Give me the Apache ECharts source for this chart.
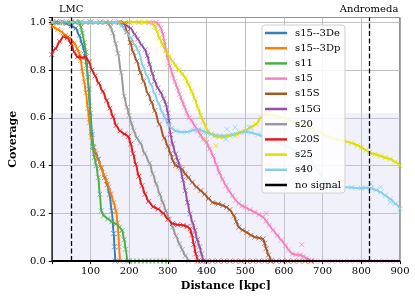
<!DOCTYPE html>
<html>
<head>
<meta charset="utf-8">
<script src="https://cdn.jsdelivr.net/npm/echarts@6/dist/echarts.min.js"></script>
<style>
html, body { margin: 0; padding: 0; background: #fff; }
#chart { width: 415px; height: 297px; }
</style>
</head>
<body>
<div id="chart"></div>
<script>
// [distance kpc, coverage]
var s15_3De = [[0,1],[10,1],[20,0.998],[37,0.995],[50,0.985],[62,0.975],[71,0.945],[78,0.91],[84,0.88],[90,0.82],[96,0.72],[100,0.62],[104,0.53],[108,0.475],[114,0.45],[120,0.427],[128,0.39],[137,0.35],[143,0.32],[149,0.28],[155,0.21],[160,0.115],[162,0.06],[164,0]];
var s15_3Dp = [[0,0.985],[4,0.98],[15,0.97],[25,0.96],[36,0.945],[46,0.934],[58,0.913],[66,0.89],[71,0.87],[75,0.84],[79,0.795],[84,0.75],[88,0.705],[93,0.64],[97,0.58],[102,0.52],[107,0.48],[112,0.46],[120,0.425],[128,0.39],[135,0.36],[141,0.337],[147,0.31],[153,0.28],[160,0.245],[166,0.21],[170,0.16],[172,0.115],[174,0.06],[176,0]];
var s11 = [[0,1],[15,1],[30,1],[45,1],[60,1],[71,1],[75,0.98],[79,0.955],[84,0.915],[88,0.875],[93,0.77],[98,0.65],[102,0.54],[105,0.48],[110,0.434],[115,0.4],[120,0.35],[124,0.28],[128,0.21],[134,0.19],[145,0.177],[155,0.165],[166,0.156],[175,0.142],[182,0.128],[187,0.09],[191,0.05],[195,0]];
var s15 = [[0,1],[25,1],[50,1],[75,1],[100,1],[125,1],[150,1],[175,1],[200,1],[225,1],[250,1],[270,1],[276,0.99],[282,0.975],[287,0.95],[291,0.92],[295,0.885],[299,0.85],[305,0.815],[312,0.78],[318,0.752],[324,0.726],[330,0.698],[337,0.67],[343,0.645],[349,0.62],[355,0.6],[362,0.587],[370,0.565],[378,0.545],[385,0.527],[391,0.51],[400,0.497],[408,0.47],[417,0.44],[425,0.405],[433,0.37],[441,0.342],[450,0.316],[458,0.295],[467,0.274],[475,0.255],[483,0.242],[492,0.232],[500,0.226],[512,0.215],[525,0.205],[535,0.195],[546,0.184],[554,0.168],[562,0.15],[572,0.13],[583,0.108],[593,0.088],[604,0.066],[612,0.047],[621,0.031],[631,0.027],[642,0.026],[650,0.02],[658,0.012],[665,0.004],[671,0]];
var s15S = [[0,1],[25,1],[50,1],[75,1],[100,1],[125,1],[150,1],[175,1],[187,0.995],[195,0.96],[203,0.915],[210,0.875],[220,0.837],[229,0.79],[237,0.753],[249,0.7],[258,0.665],[266,0.63],[278,0.573],[291,0.515],[300,0.48],[307,0.45],[313,0.42],[320,0.4],[328,0.395],[337,0.385],[345,0.365],[353,0.35],[363,0.33],[374,0.31],[385,0.295],[395,0.28],[405,0.262],[416,0.245],[430,0.24],[442,0.233],[452,0.225],[460,0.215],[471,0.19],[477,0.165],[483,0.142],[493,0.13],[504,0.12],[515,0.108],[525,0.1],[536,0.097],[546,0.093],[550,0.075],[554,0.052],[560,0.025],[567,0]];
var s15G = [[0,1],[25,1],[50,1],[75,1],[100,1],[125,1],[150,1],[175,1],[190,0.99],[204,0.975],[214,0.95],[222,0.93],[232,0.905],[241,0.885],[247,0.86],[253,0.823],[260,0.785],[266,0.753],[274,0.725],[282,0.705],[289,0.68],[295,0.656],[300,0.62],[303,0.587],[307,0.53],[312,0.49],[320,0.448],[326,0.42],[332,0.39],[339,0.34],[345,0.295],[351,0.245],[357,0.198],[364,0.16],[370,0.128],[376,0.09],[382,0.06],[387,0.03],[391,0]];
var s20 = [[0,1],[25,1],[50,1],[75,1],[100,1],[125,1],[140,1],[146,0.995],[152,0.98],[158,0.955],[165,0.91],[171,0.87],[179,0.79],[187,0.69],[194,0.645],[200,0.61],[206,0.575],[212,0.545],[220,0.515],[229,0.495],[240,0.45],[253,0.41],[261,0.365],[270,0.323],[279,0.28],[287,0.245],[295,0.21],[304,0.175],[312,0.142],[321,0.105],[330,0.072],[337,0.048],[345,0.022],[353,0]];
var s20S = [[0,0.865],[10,0.89],[20,0.92],[30,0.94],[40,0.935],[50,0.91],[58,0.875],[66,0.855],[78,0.852],[88,0.855],[96,0.835],[104,0.8],[112,0.775],[121,0.745],[132,0.71],[142,0.672],[150,0.64],[158,0.605],[166,0.568],[176,0.545],[188,0.532],[198,0.522],[204,0.49],[210,0.45],[217,0.405],[225,0.355],[233,0.316],[241,0.28],[250,0.25],[262,0.228],[275,0.218],[288,0.2],[300,0.175],[312,0.157],[325,0.152],[340,0.15],[350,0.145],[357,0.135],[362,0.11],[367,0.07],[372,0.03],[377,0]];
var s25 = [[0,1],[25,1],[50,1],[75,1],[100,1],[125,1],[150,1],[175,1],[200,1],[225,1],[240,1],[253,1],[260,0.993],[266,0.983],[272,0.96],[278,0.934],[286,0.907],[295,0.88],[303,0.858],[312,0.837],[320,0.818],[328,0.8],[337,0.785],[345,0.767],[353,0.74],[362,0.71],[370,0.677],[378,0.64],[385,0.61],[391,0.587],[397,0.565],[403,0.545],[412,0.532],[420,0.524],[432,0.52],[445,0.519],[460,0.525],[478,0.53],[490,0.54],[503,0.55],[515,0.56],[528,0.573],[540,0.6],[550,0.613],[558,0.615],[575,0.61],[592,0.603],[608,0.594],[630,0.58],[650,0.566],[670,0.552],[692,0.538],[712,0.524],[733,0.51],[755,0.503],[775,0.495],[790,0.485],[800,0.476],[812,0.465],[821,0.455],[835,0.447],[850,0.44],[862,0.433],[875,0.427],[888,0.415],[900,0.4]];
var s40 = [[0,1],[25,1],[50,1],[75,1],[100,1],[125,1],[150,1],[170,1],[180,0.985],[192,0.96],[204,0.935],[215,0.905],[225,0.875],[236,0.815],[246,0.775],[256,0.74],[266,0.7],[276,0.66],[285,0.625],[293,0.598],[301,0.572],[310,0.556],[320,0.545],[335,0.54],[350,0.541],[365,0.548],[379,0.552],[390,0.545],[400,0.538],[412,0.532],[425,0.526],[445,0.525],[467,0.53],[485,0.538],[500,0.542],[515,0.538],[533,0.53],[554,0.515],[580,0.5],[608,0.48],[638,0.455],[667,0.427],[688,0.38],[708,0.33],[728,0.315],[750,0.31],[775,0.308],[800,0.305],[812,0.307],[825,0.305],[838,0.298],[850,0.288],[862,0.275],[875,0.26],[888,0.24],[900,0.219]];

// stray crosses that sit off the curves
var s11Zero = [[200,0],[210,0],[220,0],[230,0],[240,0],[250,0],[260,0],[270,0],[280,0],[290,0],[300,0]];
var s20SZero = [[385,0],[400,0],[415,0],[430,0],[445,0],[460,0],[475,0],[490,0],[505,0],[520,0],[535,0],[550,0],[565,0],[580,0],[595,0],[610,0],[625,0],[640,0],[655,0],[670,0]];
var s15Zero = [[680,0],[695,0],[710,0],[725,0],[740,0],[755,0],[770,0],[785,0],[800,0],[815,0],[830,0],[845,0],[860,0],[875,0],[890,0]];
var s15Extra = [[646,0.069],[554,0.2]];
var s25Extra = [[399,0.51],[424,0.483],[550,0.62],[625,0.62],[299,0.823],[474,0.524]];
var s40Extra = [[450,0.51],[453,0.552],[474,0.56],[510,0.56],[825,0.323],[850,0.31],[875,0.247]];

var names = ['s15--3De', 's15--3Dp', 's11', 's15', 's15S', 's15G', 's20', 's20S', 's25', 's40'];
var curves = [s15_3De, s15_3Dp, s11, s15, s15S, s15G, s20, s20S, s25, s40];
var extras = [[], [], s11Zero, s15Zero.concat(s15Extra), [], [], [], s20SZero, s25Extra, s40Extra];
var colors = ['#377eb8', '#ff7f00', '#4daf4a', '#f781bf', '#a65628', '#984ea3', '#999999', '#e41a1c', '#dede00', '#87ceeb'];

var noSignal = [[0,0],[900,0]];
var refNames = ['LMC', 'Andromeda'];
var refDist = [50, 820];
var bandTop = 0.62;

var font = 'DejaVu Serif';
var cross = 'path://M0,0L10,10M10,0L0,10';

var series = [];
// black baseline + shaded band + reference distances
series.push({
    name: 'no signal',
    type: 'line',
    data: noSignal,
    showSymbol: false,
    lineStyle: { color: '#000', width: 2 },
    itemStyle: { color: '#000' },
    markArea: {
        silent: true,
        itemStyle: { color: 'rgba(200,200,245,0.25)' },
        data: [[{ yAxis: 0 }, { yAxis: bandTop }]]
    },
    markLine: {
        silent: true,
        symbol: 'none',
        lineStyle: { color: '#000', type: [5, 2.5], width: 1.3 },
        label: { show: true, position: 'end', distance: 3, formatter: '{b}', fontFamily: font, fontSize: 10, color: '#000' },
        data: refDist.map(function (d, i) { return { name: refNames[i], xAxis: d }; })
    },
    z: 3
});
for (var i = 0; i < names.length; i++) {
    series.push({
        name: names[i] + ' pts',
        type: 'scatter',
        data: curves[i].concat(extras[i]),
        symbol: cross,
        symbolSize: 5,
        itemStyle: { color: 'rgba(0,0,0,0)', borderColor: colors[i], borderWidth: 1, opacity: 0.75 },
        silent: true,
        z: 2
    });
    series.push({
        name: names[i],
        type: 'line',
        data: curves[i],
        smooth: 0.35,
        smoothMonotone: 'x',
        showSymbol: false,
        lineStyle: { color: colors[i], width: 2 },
        itemStyle: { color: colors[i] },
        z: 2
    });
}

var myChart = echarts.init(document.getElementById('chart'));
myChart.setOption({
    animation: false,
    grid: { left: 40, right: 15, top: 17.5, bottom: 34.5, show: true, borderColor: '#222', borderWidth: 1, backgroundColor: 'transparent' },
    xAxis: {
        type: 'value', min: 0, max: 900, interval: 100,
        name: 'Distance [kpc]', nameLocation: 'middle', nameGap: 16,
        nameTextStyle: { fontFamily: font, fontSize: 11, fontWeight: 'bold', color: '#000' },
        axisLine: { lineStyle: { color: '#000', width: 1 } },
        axisTick: { length: 3, lineStyle: { color: '#000' } },
        axisLabel: { margin: 5, fontFamily: font, fontSize: 10, color: '#000',
            formatter: function (v) { return v === 0 ? '' : String(v); } },
        splitLine: { lineStyle: { color: '#b0b0b0', width: 0.8 } }
    },
    yAxis: {
        type: 'value', min: 0, max: 1.02, interval: 0.2,
        name: 'Coverage', nameLocation: 'middle', nameGap: 27,
        nameTextStyle: { fontFamily: font, fontSize: 11, fontWeight: 'bold', color: '#000' },
        axisLine: { show: true, lineStyle: { color: '#000', width: 1 } },
        axisTick: { show: true, length: 3, lineStyle: { color: '#000' } },
        axisLabel: { margin: 6, fontFamily: font, fontSize: 10, color: '#000',
            formatter: function (v) { return Math.abs(v * 5 - Math.round(v * 5)) < 1e-6 ? v.toFixed(1) : ''; } },
        splitLine: { lineStyle: { color: '#b0b0b0', width: 0.8 } }
    },
    legend: {
        data: names.concat(['no signal']),
        orient: 'vertical', left: 262, top: 25,
        icon: 'rect', itemWidth: 22, itemHeight: 2.5, itemGap: 3.2,
        padding: [2, 4, 2, 3],
        backgroundColor: 'rgba(255,255,255,0.85)', borderColor: '#d0d0d0', borderWidth: 1, borderRadius: 3,
        textStyle: { fontFamily: font, fontSize: 10, color: '#000', lineHeight: 12, padding: [0, 0, 0, 3] }
    },
    series: series
});
</script>
</body>
</html>
